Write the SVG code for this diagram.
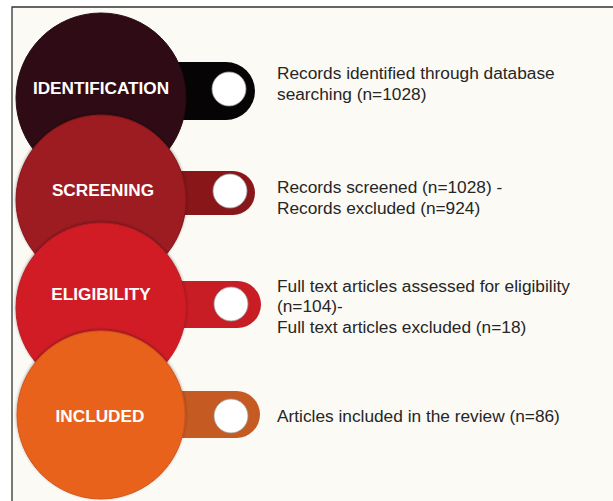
<svg xmlns="http://www.w3.org/2000/svg" width="613" height="501" viewBox="0 0 613 501">
  <defs>
    <filter id="sh" x="-20%" y="-20%" width="140%" height="140%">
      <feDropShadow dx="0" dy="-1" stdDeviation="1.5" flood-color="#000" flood-opacity="0.35"/>
    </filter>
    <style>
      .lbl { font-family: "Liberation Sans", Arial, sans-serif; font-weight: bold; font-size: 17.2px; fill: #ffffff; text-anchor: middle; }
      .desc { font-family: "Liberation Sans", Arial, sans-serif; font-size: 17.3px; fill: #262626; }
      .dot { fill: #ffffff; stroke: #9a9a9a; stroke-width: 0.8; }
      .frame { stroke: #333333; stroke-width: 1.3; fill: none; }
    </style>
  </defs>
  <rect x="0" y="0" width="613" height="501" fill="#ffffff"/>
  <rect x="12" y="7" width="601" height="494" fill="#fcfaf5"/>
  <path class="frame" d="M12,501 V7 H613"/>

  <g id="identification">
    <rect x="150" y="62" width="105" height="58" rx="29" fill="#060405"/>
    <circle class="dot" cx="229" cy="89" r="17"/>
    <circle cx="101" cy="98" r="85" fill="#2f0c15" stroke="#240910" stroke-width="1"/>
    <text class="lbl" x="101" y="94">IDENTIFICATION</text>
    <text class="desc" x="277" y="79">Records identified through database</text>
    <text class="desc" x="277" y="100">searching (n=1028)</text>
  </g>

  <g id="screening">
    <rect x="150" y="171" width="105" height="44" rx="22" fill="#891619"/>
    <circle class="dot" cx="230" cy="191" r="17"/>
    <circle cx="101" cy="200" r="85" fill="#9d1b20" stroke="#84161a" stroke-width="1" filter="url(#sh)"/>
    <text class="lbl" x="103" y="196">SCREENING</text>
    <text class="desc" x="277" y="193">Records screened (n=1028) -</text>
    <text class="desc" x="277" y="214">Records excluded (n=924)</text>
  </g>

  <g id="eligibility">
    <rect x="150" y="281" width="111" height="47" rx="23.5" fill="#c81d24"/>
    <circle class="dot" cx="231" cy="304" r="17"/>
    <circle cx="101" cy="308" r="85" fill="#d11f27" stroke="#b81a21" stroke-width="1" filter="url(#sh)"/>
    <text class="lbl" x="101" y="300">ELIGIBILITY</text>
    <text class="desc" x="277" y="292">Full text articles assessed for eligibility</text>
    <text class="desc" x="277" y="312">(n=104)-</text>
    <text class="desc" x="277" y="333">Full text articles excluded (n=18)</text>
  </g>

  <g id="included">
    <rect x="150" y="391" width="110" height="47" rx="23.5" fill="#c55a22"/>
    <circle class="dot" cx="231" cy="416" r="17"/>
    <circle cx="101" cy="415" r="84" fill="#e8621f" stroke="#d0561b" stroke-width="1" filter="url(#sh)"/>
    <text class="lbl" x="100" y="422">INCLUDED</text>
    <text class="desc" x="277" y="422">Articles included in the review (n=86)</text>
  </g>

  <g id="connectors"/>
</svg>
